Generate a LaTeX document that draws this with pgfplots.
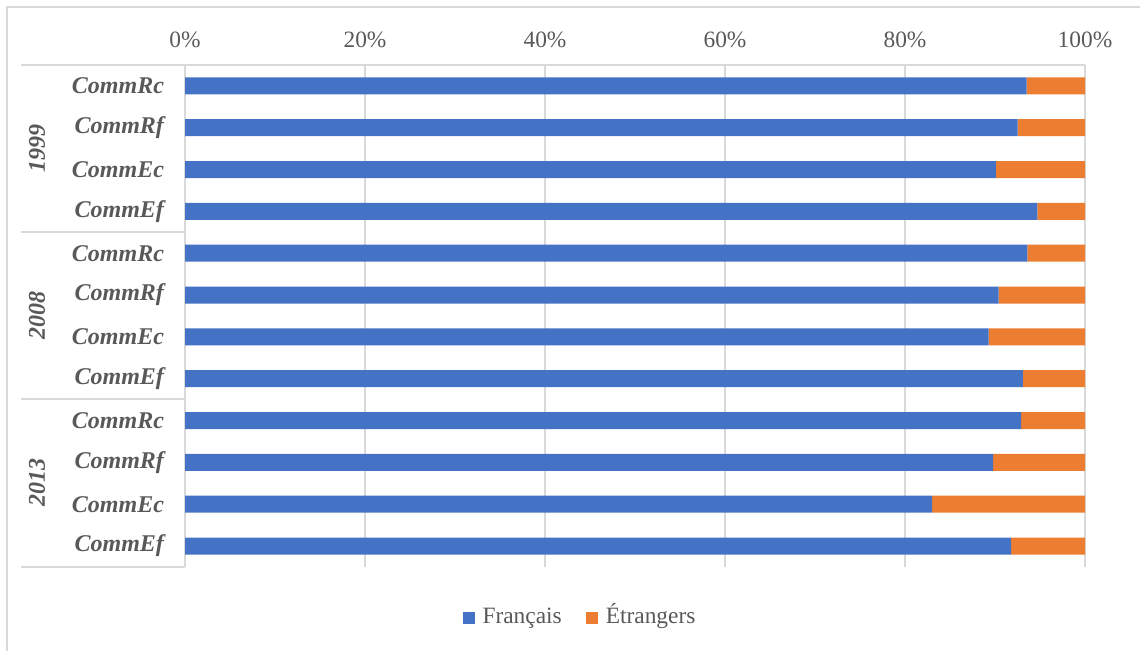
\documentclass[border=0pt]{standalone}
\usepackage{fontspec}
\setmainfont{Liberation Serif}
\usepackage{pgfplots}
\pgfplotsset{compat=1.18}
\usepackage{pgfplotstable}

\definecolor{fr}{HTML}{4472C4}
\definecolor{et}{HTML}{ED7D31}
\definecolor{txt}{HTML}{595959}
\definecolor{grd}{HTML}{D9D9D9}

% share of French / foreign (in %)
\pgfplotstableread{
pos fr et
0  93.5 6.5
1  92.5 7.5
2  90.1 9.9
3  94.7 5.3
4  93.6 6.4
5  90.4 9.6
6  89.3 10.7
7  93.1 6.9
8  92.9 7.1
9  89.8 10.2
10 83.0 17.0
11 91.8 8.2
}\shares

\begin{document}
\begin{tikzpicture}[x=1pt,y=1pt]
\useasboundingbox (0,0) rectangle (570,325.5);
% outer frame (1px = 0.5pt)
\draw[grd, line width=0.6pt] (3.5,0) -- (3.5,322) -- (570,322);
\begin{axis}[
    at={(92.5pt,42pt)}, anchor=south west,
    scale only axis, width=450pt, height=251pt,
    xbar stacked, bar width=8.5pt,
    xmin=0, xmax=100,
    ymin=-0.5, ymax=11.5, y dir=reverse,
    axis x line*=top, axis y line*=left,
    axis line style={grd, line width=0.75pt},
    xtick={0,20,...,100},
    xticklabel={\pgfmathprintnumber{\tick}\%},
    xmajorgrids, grid style={grd, line width=0.75pt},
    major tick length=0pt,
    ytick={0,...,11},
    yticklabels={CommRc,CommRf,CommEc,CommEf,CommRc,CommRf,CommEc,CommEf,CommRc,CommRf,CommEc,CommEf},
    /pgf/number format/assume math mode=true,
    xticklabel style={font=\fontsize{11.7}{14}\selectfont, text=txt, yshift=5pt},
    yticklabel style={font=\fontsize{12}{14}\selectfont\bfseries\itshape, text=txt, xshift=-7pt},
    clip=false,
    legend style={draw=none, at={(0.4400,-0.1016)}, anchor=center,
        legend columns=2, font=\fontsize{11.7}{14}\selectfont, text=txt,
        nodes={text height=1.5ex, text depth=0.4ex},
        /tikz/every even column/.append style={column sep=10pt},
        /tikz/every odd column/.append style={column sep=2pt}},
    legend image code/.code={\fill[#1] (0pt,-3pt) rectangle (6pt,3pt);},
]
\addplot[fill=fr, draw=none] table[x=fr, y=pos] {\shares};
\addplot[fill=et, draw=none] table[x=et, y=pos] {\shares};
\legend{Français, Étrangers}
\end{axis}
% group separators
\foreach \yy in {293,209.5,126,42}
  \draw[grd, line width=0.75pt] (10.5,\yy) -- (92.5,\yy);
% year labels
\foreach \yy/\lab in {251.25/1999,167.75/2008,84/2013}
  \node[rotate=90, text=txt, font=\fontsize{12}{14}\selectfont\bfseries\itshape] at (18.5,\yy) {\lab};
\end{tikzpicture}
\end{document}
